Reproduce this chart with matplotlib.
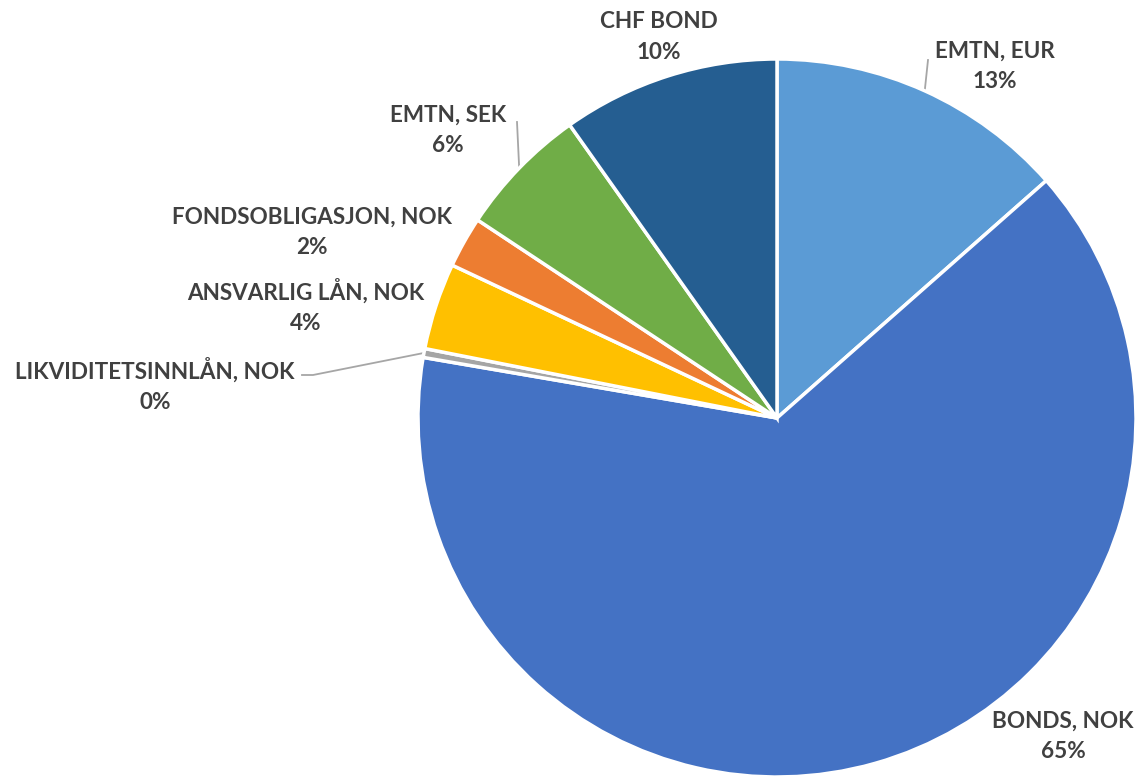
import matplotlib.pyplot as plt
import numpy as np

categories = ["EMTN, EUR", "BONDS, NOK", "LIKVIDITETSINNLÅN, NOK", "ANSVARLIG LÅN, NOK",
              "FONDSOBLIGASJON, NOK", "EMTN, SEK", "CHF BOND"]
shares = [13.5, 64.2, 0.4, 3.9, 2.3, 5.9, 9.8]
pct_labels = ["13%", "65%", "0%", "4%", "2%", "6%", "10%"]
colors = ["#5B9BD5", "#4472C4", "#A5A5A5", "#FFC000", "#ED7D31", "#70AD47", "#255E91"]

W, H = 1138, 778
CX, CY, R = 777, 418, 359


def px(x, y):
    # pixel (from top-left) -> data coords, pie radius 1 at origin
    return (x - CX) / R, (CY - y) / R


# label centres in pixels (layout only)
label_pos = [(995, 66), (1063, 736), (155, 385), (306, 306), (312, 232), (448, 130), (659, 37)]
# which labels get a leader line, and where the line starts (pixels)
leader_start = {0: [(928, 60)], 2: [(302, 375), (313, 375)], 5: [(517, 122)]}

fig = plt.figure(figsize=(W / 100, H / 100), dpi=100)
ax = fig.add_axes([0, 0, 1, 1])
ax.axis("off")

wedges, _ = ax.pie(shares, colors=colors, startangle=90, counterclock=False, radius=1,
                   wedgeprops=dict(edgecolor="white", linewidth=2.5))
ax.set_aspect("auto")
ax.set_xlim(-CX / R, (W - CX) / R)
ax.set_ylim((CY - H) / R, CY / R)

font = dict(family=["Lato", "DejaVu Sans"], weight="bold", size=16.2, color="#404040")
for i, w in enumerate(wedges):
    x, y = px(*label_pos[i])
    ax.text(x, y, categories[i] + "\n" + pct_labels[i], ha="center", va="center",
            linespacing=1.55, **font)
    if i in leader_start:
        mid = np.deg2rad((w.theta1 + w.theta2) / 2)
        pts = [px(*p) for p in leader_start[i]] + [(np.cos(mid), np.sin(mid))]
        xs, ys = zip(*pts)
        ax.plot(xs, ys, color="#A6A6A6", lw=1.3, zorder=0)

fig.savefig("out.png", dpi=100)
